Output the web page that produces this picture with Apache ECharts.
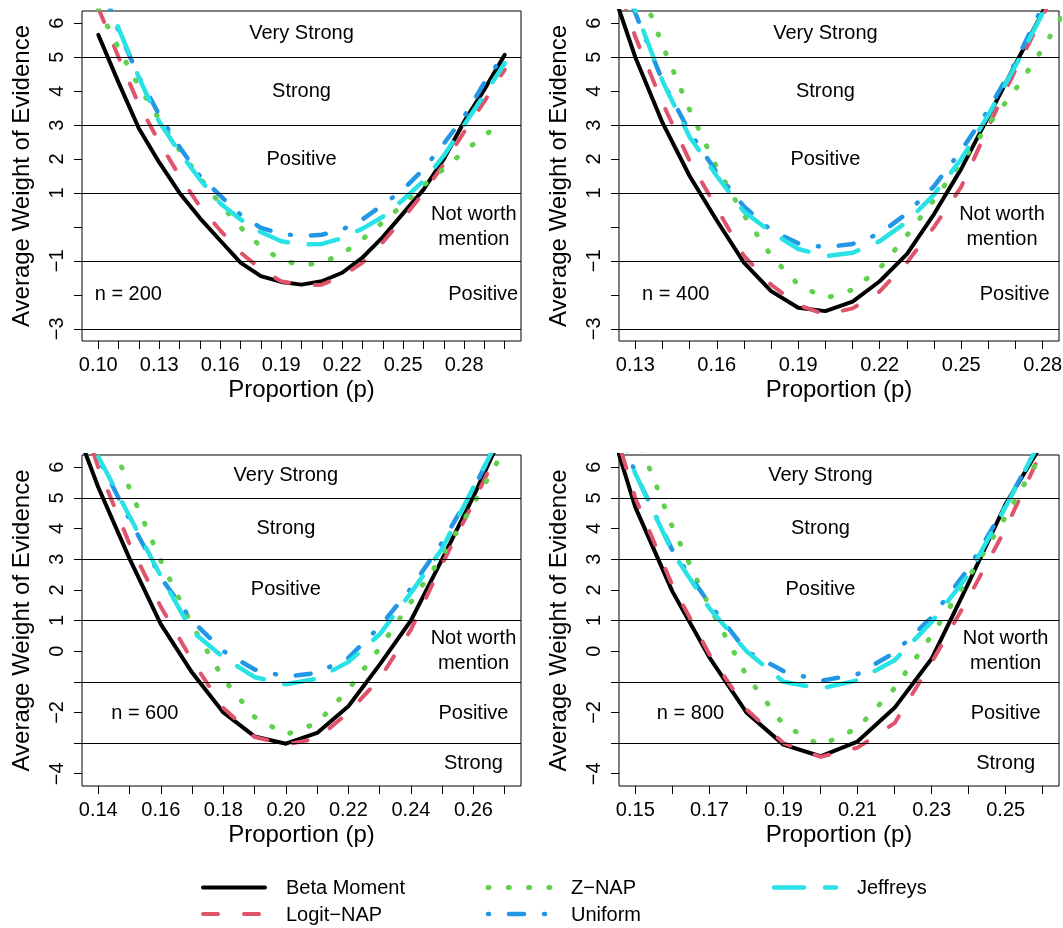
<!DOCTYPE html>
<html>
<head>
<meta charset="utf-8">
<title>Average Weight of Evidence by Proportion</title>
<script src="https://cdn.jsdelivr.net/npm/echarts@6/dist/echarts.min.js"></script>
<style>
  html, body { margin: 0; padding: 0; background: #ffffff; }
  #chart { width: 1063px; height: 928px; }
</style>
</head>
<body>
<div id="chart"></div>
<script>
// ---------- data ----------
// n = 200
const prop200  = [0.10, 0.11, 0.12, 0.13, 0.14, 0.15, 0.16, 0.17, 0.18, 0.19, 0.20, 0.21, 0.22, 0.23, 0.24, 0.25, 0.26, 0.27, 0.28, 0.29, 0.30];
const beta200  = [5.66, 4.25, 2.9, 1.9, 1.0, 0.26, -0.4, -1.05, -1.45, -1.62, -1.70, -1.6, -1.35, -0.9, -0.3, 0.4, 1.1, 2.0, 3.1, 4.05, 5.07];
const logit200 = [6.45, 5.0, 3.6, 2.5, 1.5, 0.6, -0.1, -0.75, -1.25, -1.6, -1.72, -1.7, -1.45, -1.05, -0.45, 0.25, 1.0, 1.85, 2.8, 3.7, 4.63];
const znap200  = [6.45, 5.26, 4.14, 3.17, 2.26, 1.45, 0.67, -0.01, -0.58, -0.97, -1.13, -1.05, -0.80, -0.36, 0.14, 0.66, 1.22, 1.71, 2.22, 2.7, 3.11];
const unif200  = [7.4, 5.77, 4.42, 3.3, 2.35, 1.5, 0.92, 0.36, -0.03, -0.2, -0.27, -0.23, -0.08, 0.22, 0.65, 1.1, 1.7, 2.45, 3.25, 4.25, 5.1];
const jeff200  = [7.3, 5.85, 4.4, 3.1, 2.2, 1.4, 0.7, 0.22, -0.15, -0.42, -0.52, -0.5, -0.33, -0.05, 0.3, 0.8, 1.35, 2.1, 3.0, 3.9, 4.82];

// n = 400
const prop400  = [0.12, 0.13, 0.14, 0.15, 0.16, 0.17, 0.18, 0.19, 0.20, 0.21, 0.22, 0.23, 0.24, 0.25, 0.26, 0.27, 0.28, 0.29];
const beta400  = [7.35, 5.0, 3.07, 1.5, 0.19, -1.05, -1.89, -2.38, -2.48, -2.2, -1.6, -0.8, 0.38, 1.71, 3.25, 4.8, 6.33, 8.0];
const logit400 = [8.0, 5.6, 3.65, 1.95, 0.55, -0.85, -1.7, -2.3, -2.58, -2.4, -1.9, -1.05, 0.0, 1.18, 2.95, 4.63, 6.2, 7.9];
const znap400  = [9.6, 7.45, 5.35, 3.45, 1.75, 0.35, -0.85, -1.7, -2.1, -1.85, -1.22, -0.25, 0.8, 1.9, 3.0, 4.05, 5.25, 6.6];
const unif400  = [8.6, 6.3, 4.3, 2.8, 1.6, 0.6, -0.1, -0.48, -0.6, -0.5, -0.2, 0.4, 1.2, 2.25, 3.45, 4.85, 6.5, 8.1];
const jeff400  = [8.6, 6.4, 4.3, 2.65, 1.5, 0.45, -0.15, -0.65, -0.86, -0.76, -0.42, 0.15, 0.95, 2.0, 3.3, 4.75, 6.3, 7.9];

// n = 600
const prop600  = [0.13, 0.14, 0.15, 0.16, 0.17, 0.18, 0.19, 0.20, 0.21, 0.22, 0.23, 0.24, 0.25, 0.26, 0.27];
const beta600  = [8.05, 5.35, 3.02, 0.88, -0.7, -2.0, -2.78, -3.02, -2.67, -1.8, -0.44, 1.0, 3.0, 5.05, 7.25];
const logit600 = [9.0, 6.0, 3.5, 1.45, -0.3, -1.85, -2.8, -3.05, -2.85, -2.0, -0.9, 0.7, 2.85, 4.85, 7.0];
const znap600  = [11.0, 8.1, 5.3, 2.95, 0.85, -0.9, -2.15, -2.72, -2.35, -1.25, 0.1, 1.6, 3.1, 4.8, 6.6];
const unif600  = [9.5, 6.3, 4.3, 2.4, 1.0, 0.0, -0.6, -0.83, -0.71, -0.22, 0.8, 2.05, 3.55, 5.3, 7.3];
const jeff600  = [9.5, 6.35, 4.4, 2.45, 0.65, -0.2, -0.85, -1.08, -0.9, -0.35, 0.55, 1.9, 3.35, 5.35, 7.3];

// n = 800
const prop800  = [0.14, 0.15, 0.16, 0.17, 0.18, 0.19, 0.20, 0.21, 0.22, 0.23, 0.24, 0.25, 0.26];
const beta800  = [8.6, 4.7, 1.95, -0.2, -2.0, -3.05, -3.43, -2.95, -1.85, -0.25, 2.23, 4.8, 6.8];
const logit800 = [9.0, 5.0, 2.15, -0.1, -1.9, -3.0, -3.45, -3.15, -2.35, -0.37, 1.75, 4.0, 6.6];
const znap800  = [10.3, 7.15, 4.06, 1.46, -0.79, -2.4, -3.08, -2.51, -1.21, 0.51, 2.4, 4.39, 6.5];
const unif800  = [9.5, 5.8, 3.3, 1.55, 0.0, -0.65, -0.97, -0.75, -0.05, 1.1, 2.7, 4.75, 7.0];
const jeff800  = [9.0, 5.8, 3.24, 1.4, 0.0, -1.0, -1.22, -0.95, -0.3, 0.95, 2.5, 4.71, 7.0];

// axis ticks and labels
const xTicks200  = [0.10, 0.11, 0.12, 0.13, 0.14, 0.15, 0.16, 0.17, 0.18, 0.19, 0.20, 0.21, 0.22, 0.23, 0.24, 0.25, 0.26, 0.27, 0.28, 0.29, 0.30];
const xLabels200 = [0.10, 0.13, 0.16, 0.19, 0.22, 0.25, 0.28];
const xTicks400  = [0.13, 0.14, 0.15, 0.16, 0.17, 0.18, 0.19, 0.20, 0.21, 0.22, 0.23, 0.24, 0.25, 0.26, 0.27, 0.28];
const xLabels400 = [0.13, 0.16, 0.19, 0.22, 0.25, 0.28];
const xTicks600  = [0.14, 0.15, 0.16, 0.17, 0.18, 0.19, 0.20, 0.21, 0.22, 0.23, 0.24, 0.25, 0.26, 0.27];
const xLabels600 = [0.14, 0.16, 0.18, 0.20, 0.22, 0.24, 0.26];
const xTicks800  = [0.15, 0.16, 0.17, 0.18, 0.19, 0.20, 0.21, 0.22, 0.23, 0.24, 0.25, 0.26];
const xLabels800 = [0.15, 0.17, 0.19, 0.21, 0.23, 0.25];
const yTicksTop     = [-3, -2, -1, 0, 1, 2, 3, 4, 5, 6];
const yLabelsTop    = [-3, -1, 1, 2, 3, 4, 5, 6];
const yTicksBottom  = [-4, -3, -2, -1, 0, 1, 2, 3, 4, 5, 6];
const yLabelsBottom = [-4, -2, 0, 1, 2, 3, 4, 5, 6];

// boundaries between evidence categories
const evidenceCuts = [5, 3, 1, -1, -3];

// ---------- styles ----------
const FONT = '"Liberation Sans", Arial, Helvetica, sans-serif';
const methods = [
  { name: 'Beta Moment',    color: '#000000', width: 4,   dash: 'solid' },
  { name: 'Logit\u2212NAP', color: '#DF536B', width: 4,   dash: [15, 26] },
  { name: 'Z\u2212NAP',     color: '#61D04F', width: 5,   dash: [1, 19.3] },
  { name: 'Uniform',        color: '#2297E6', width: 4.5, dash: [1, 20, 15, 20] },
  { name: 'Jeffreys',       color: '#28E2E5', width: 4.5, dash: [30, 21] }
];

function fmt(v, digits) {
  const s = v.toFixed(digits);
  return s.charAt(0) === '-' ? '\u2212' + s.slice(1) : s;
}

// text written inside each panel, placed in data coordinates
const panels = [
  {
    grid: { left: 82, top: 11, width: 439, height: 330 },
    xlim: [0.10, 0.30], ylim: [-3, 6],
    xTicks: xTicks200, xLabels: xLabels200, yTicks: yTicksTop, yLabels: yLabelsTop,
    p: prop200, values: [beta200, logit200, znap200, unif200, jeff200],
    notes: [
      { text: 'Very Strong', at: [0.20, 5.7] },
      { text: 'Strong', at: [0.20, 4.0] },
      { text: 'Positive', at: [0.20, 2.0] },
      { text: 'Not worth\nmention', at: [0.2848, 0.0] },
      { text: 'Positive', at: [0.2894, -2.0] },
      { text: 'n = 200', at: [0.1148, -2.0] }
    ]
  },
  {
    grid: { left: 619, top: 11, width: 440, height: 330 },
    xlim: [0.13, 0.28], ylim: [-3, 6],
    xTicks: xTicks400, xLabels: xLabels400, yTicks: yTicksTop, yLabels: yLabelsTop,
    p: prop400, values: [beta400, logit400, znap400, unif400, jeff400],
    notes: [
      { text: 'Very Strong', at: [0.20, 5.7] },
      { text: 'Strong', at: [0.20, 4.0] },
      { text: 'Positive', at: [0.20, 2.0] },
      { text: 'Not worth\nmention', at: [0.265, 0.0] },
      { text: 'Positive', at: [0.2697, -2.0] },
      { text: 'n = 400', at: [0.1449, -2.0] }
    ]
  },
  {
    grid: { left: 82, top: 455, width: 439, height: 331 },
    xlim: [0.14, 0.27], ylim: [-4, 6],
    xTicks: xTicks600, xLabels: xLabels600, yTicks: yTicksBottom, yLabels: yLabelsBottom,
    p: prop600, values: [beta600, logit600, znap600, unif600, jeff600],
    notes: [
      { text: 'Very Strong', at: [0.20, 5.73] },
      { text: 'Strong', at: [0.20, 4.0] },
      { text: 'Positive', at: [0.20, 2.0] },
      { text: 'Not worth\nmention', at: [0.26, 0.0] },
      { text: 'Positive', at: [0.26, -2.04] },
      { text: 'Strong', at: [0.26, -3.67] },
      { text: 'n = 600', at: [0.1549, -2.02] }
    ]
  },
  {
    grid: { left: 619, top: 455, width: 440, height: 331 },
    xlim: [0.15, 0.26], ylim: [-4, 6],
    xTicks: xTicks800, xLabels: xLabels800, yTicks: yTicksBottom, yLabels: yLabelsBottom,
    p: prop800, values: [beta800, logit800, znap800, unif800, jeff800],
    notes: [
      { text: 'Very Strong', at: [0.20, 5.73] },
      { text: 'Strong', at: [0.20, 4.0] },
      { text: 'Positive', at: [0.20, 2.0] },
      { text: 'Not worth\nmention', at: [0.25, 0.0] },
      { text: 'Positive', at: [0.25, -2.04] },
      { text: 'Strong', at: [0.25, -3.67] },
      { text: 'n = 800', at: [0.1649, -2.02] }
    ]
  }
];

// ---------- option ----------
const option = {
  animation: false,
  backgroundColor: '#ffffff',
  textStyle: { fontFamily: FONT, color: '#000' },
  grid: [], xAxis: [], yAxis: [], series: [],
  legend: [], graphic: []
};

panels.forEach((pn, i) => {
  option.grid.push(Object.assign({}, pn.grid, {
    show: true, borderColor: '#000', borderWidth: 1,
    backgroundColor: 'transparent', containLabel: false, outerBoundsMode: 'none'
  }));

  // plotting range is padded by 4% on each side
  const padX = (pn.xlim[1] - pn.xlim[0]) * 0.04;
  const padY = (pn.ylim[1] - pn.ylim[0]) * 0.04;

  option.xAxis.push({
    type: 'value', gridIndex: i, position: 'bottom',
    min: pn.xlim[0] - padX, max: pn.xlim[1] + padX,
    axisLine: { show: false, onZero: false },
    splitLine: { show: false },
    axisTick: { show: true, inside: false, length: 8, customValues: pn.xTicks,
                lineStyle: { color: '#000', width: 1 } },
    axisLabel: { show: true, customValues: pn.xLabels, margin: 14,
                 fontSize: 20, color: '#000', fontFamily: FONT,
                 formatter: v => fmt(v, 2) },
    name: 'Proportion (p)', nameLocation: 'middle', nameGap: 37,
    nameTextStyle: { fontSize: 24, color: '#000', fontFamily: FONT }
  });

  option.yAxis.push({
    type: 'value', gridIndex: i, position: 'left',
    min: pn.ylim[0] - padY, max: pn.ylim[1] + padY,
    axisLine: { show: false, onZero: false },
    splitLine: { show: false },
    axisTick: { show: true, inside: false, length: 8, customValues: pn.yTicks,
                lineStyle: { color: '#000', width: 1 } },
    axisLabel: { show: true, customValues: pn.yLabels, rotate: 90, margin: 15,
                 fontSize: 20, color: '#000', fontFamily: FONT,
                 formatter: v => fmt(v, 0) },
    name: 'Average Weight of Evidence', nameLocation: 'middle', nameRotate: 90, nameGap: 48,
    nameTextStyle: { fontSize: 24, color: '#000', fontFamily: FONT }
  });

  methods.forEach((m, k) => {
    const s = {
      type: 'line', name: m.name,
      xAxisIndex: i, yAxisIndex: i,
      data: pn.p.map((p, j) => [p, pn.values[k][j]]),
      symbol: 'none', showSymbol: false, clip: true, silent: true,
      lineStyle: { color: m.color, width: m.width, type: m.dash, cap: 'round', join: 'round' },
      itemStyle: { color: m.color },
      emphasis: { disabled: true },
      z: 3
    };
    if (k === 0) {
      s.markLine = {
        silent: true, symbol: ['none', 'none'], animation: false,
        label: { show: false },
        lineStyle: { color: '#000', width: 1, type: 'solid' },
        emphasis: { disabled: true },
        data: evidenceCuts.map(v => ({ yAxis: v }))
      };
    }
    option.series.push(s);
  });

  option.series.push({
    type: 'scatter', name: 'notes' + i,
    xAxisIndex: i, yAxisIndex: i, silent: true,
    symbolSize: 0, itemStyle: { color: '#000', opacity: 1 },
    z: 5,
    data: pn.notes.map(nt => ({ value: nt.at, label: { formatter: nt.text } })),
    label: { show: true, position: 'inside', fontSize: 20, color: '#000', fontFamily: FONT,
             lineHeight: 25, align: 'center', verticalAlign: 'middle',
             textBorderWidth: 0, opacity: 1 }
  });
});

// legend: text entries from the legend component, line samples drawn alongside
const legendCols = [
  { left: 203, names: [0, 1] },
  { left: 488, names: [2, 3] },
  { left: 774, names: [4] }
];
const legendRowsY = [887.5, 914];
const sampleLen = 62;
legendCols.forEach(col => {
  option.legend.push({
    orient: 'vertical', padding: 0, top: 878, left: col.left,
    itemWidth: sampleLen, itemHeight: 14, itemGap: 7,
    selectedMode: false,
    textStyle: { fontSize: 20, color: '#000', fontFamily: FONT, padding: [0, 0, 0, 16], lineHeight: 20 },
    data: col.names.map(k => ({ name: methods[k].name, icon: 'none' }))
  });
  col.names.forEach((k, r) => {
    const m = methods[k];
    option.graphic.push({
      type: 'line', silent: true, z: 10,
      shape: { x1: col.left, y1: legendRowsY[r], x2: col.left + sampleLen, y2: legendRowsY[r] },
      style: { stroke: m.color, lineWidth: m.width, lineCap: 'round',
               lineDash: m.dash === 'solid' ? null : m.dash }
    });
  });
});

const chart = echarts.init(document.getElementById('chart'), null, { renderer: 'canvas' });
chart.setOption(option);
</script>
</body>
</html>
